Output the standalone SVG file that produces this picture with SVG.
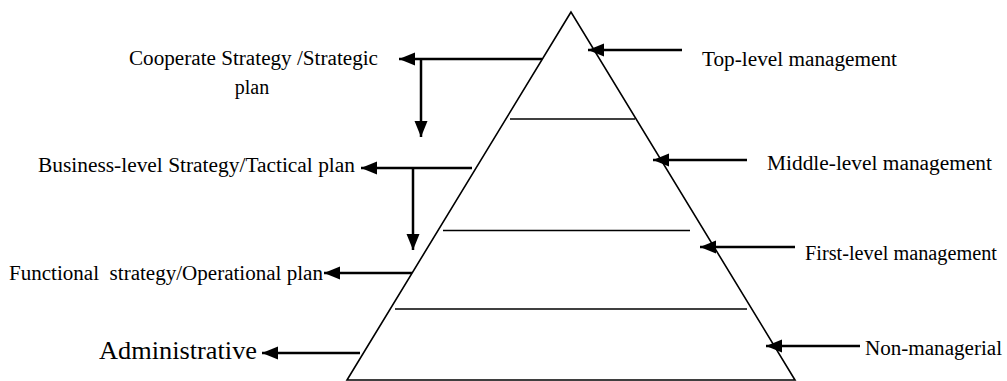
<svg xmlns="http://www.w3.org/2000/svg" width="1007" height="381" viewBox="0 0 1007 381">
<style>
text{font-family:"Liberation Serif","Times New Roman",serif;font-size:20px;fill:#000}
.big{font-size:25px}
.edge{stroke:#000;stroke-width:2.5;fill:none}
.shape{stroke:#000;stroke-width:1.6;fill:#fff}
.band{stroke:#000;stroke-width:1.6}
</style>
<defs>
<marker id="ah" markerUnits="userSpaceOnUse" markerWidth="18" markerHeight="14" refX="16" refY="7" orient="auto">
<path d="M0,0.5 L16,7 L0,13.5 z" fill="#000"/>
</marker>
</defs>
<g id="pyramid">
<polygon class="shape" points="571,12 347,380 795,380"/>
<line class="band" x1="510" y1="119" x2="635" y2="119"/>
<line class="band" x1="443" y1="230.5" x2="690" y2="230.5"/>
<line class="band" x1="395" y1="309" x2="747" y2="309"/>
</g>
<g id="connectors">
<line class="edge" x1="542" y1="59" x2="399" y2="59" marker-end="url(#ah)"/>
<line class="edge" x1="421" y1="59" x2="421" y2="137" marker-end="url(#ah)"/>
<line class="edge" x1="472" y1="168" x2="361" y2="168" marker-end="url(#ah)"/>
<line class="edge" x1="413" y1="168" x2="413" y2="250" marker-end="url(#ah)"/>
<line class="edge" x1="412" y1="273" x2="324" y2="273" marker-end="url(#ah)"/>
<line class="edge" x1="360" y1="353" x2="262" y2="353" marker-end="url(#ah)"/>
<line class="edge" x1="682" y1="50" x2="588" y2="50" marker-end="url(#ah)"/>
<line class="edge" x1="747" y1="160" x2="653" y2="160" marker-end="url(#ah)"/>
<line class="edge" x1="795" y1="247" x2="700" y2="247" marker-end="url(#ah)"/>
<line class="edge" x1="860" y1="346" x2="766" y2="346" marker-end="url(#ah)"/>
</g>
<g id="cooperate">
<text x="129" y="65" textLength="249" lengthAdjust="spacingAndGlyphs">Cooperate Strategy /Strategic</text>
<text x="252" y="94" text-anchor="middle">plan</text>
</g>
<g id="business">
<text x="38" y="172" textLength="317" lengthAdjust="spacingAndGlyphs">Business-level Strategy/Tactical plan</text>
</g>
<g id="functional">
<text x="9" y="280" textLength="314" lengthAdjust="spacingAndGlyphs" xml:space="preserve">Functional  strategy/Operational plan</text>
</g>
<g id="administrative">
<text class="big" x="99" y="359" textLength="158" lengthAdjust="spacingAndGlyphs">Administrative</text>
</g>
<g id="top-level">
<text x="702" y="66" textLength="195" lengthAdjust="spacingAndGlyphs">Top-level management</text>
</g>
<g id="middle-level">
<text x="767" y="170" textLength="225" lengthAdjust="spacingAndGlyphs">Middle-level management</text>
</g>
<g id="first-level">
<text x="805" y="260" textLength="192" lengthAdjust="spacingAndGlyphs">First-level management</text>
</g>
<g id="non-managerial">
<text x="865" y="355" textLength="137" lengthAdjust="spacingAndGlyphs">Non-managerial</text>
</g>
</svg>
